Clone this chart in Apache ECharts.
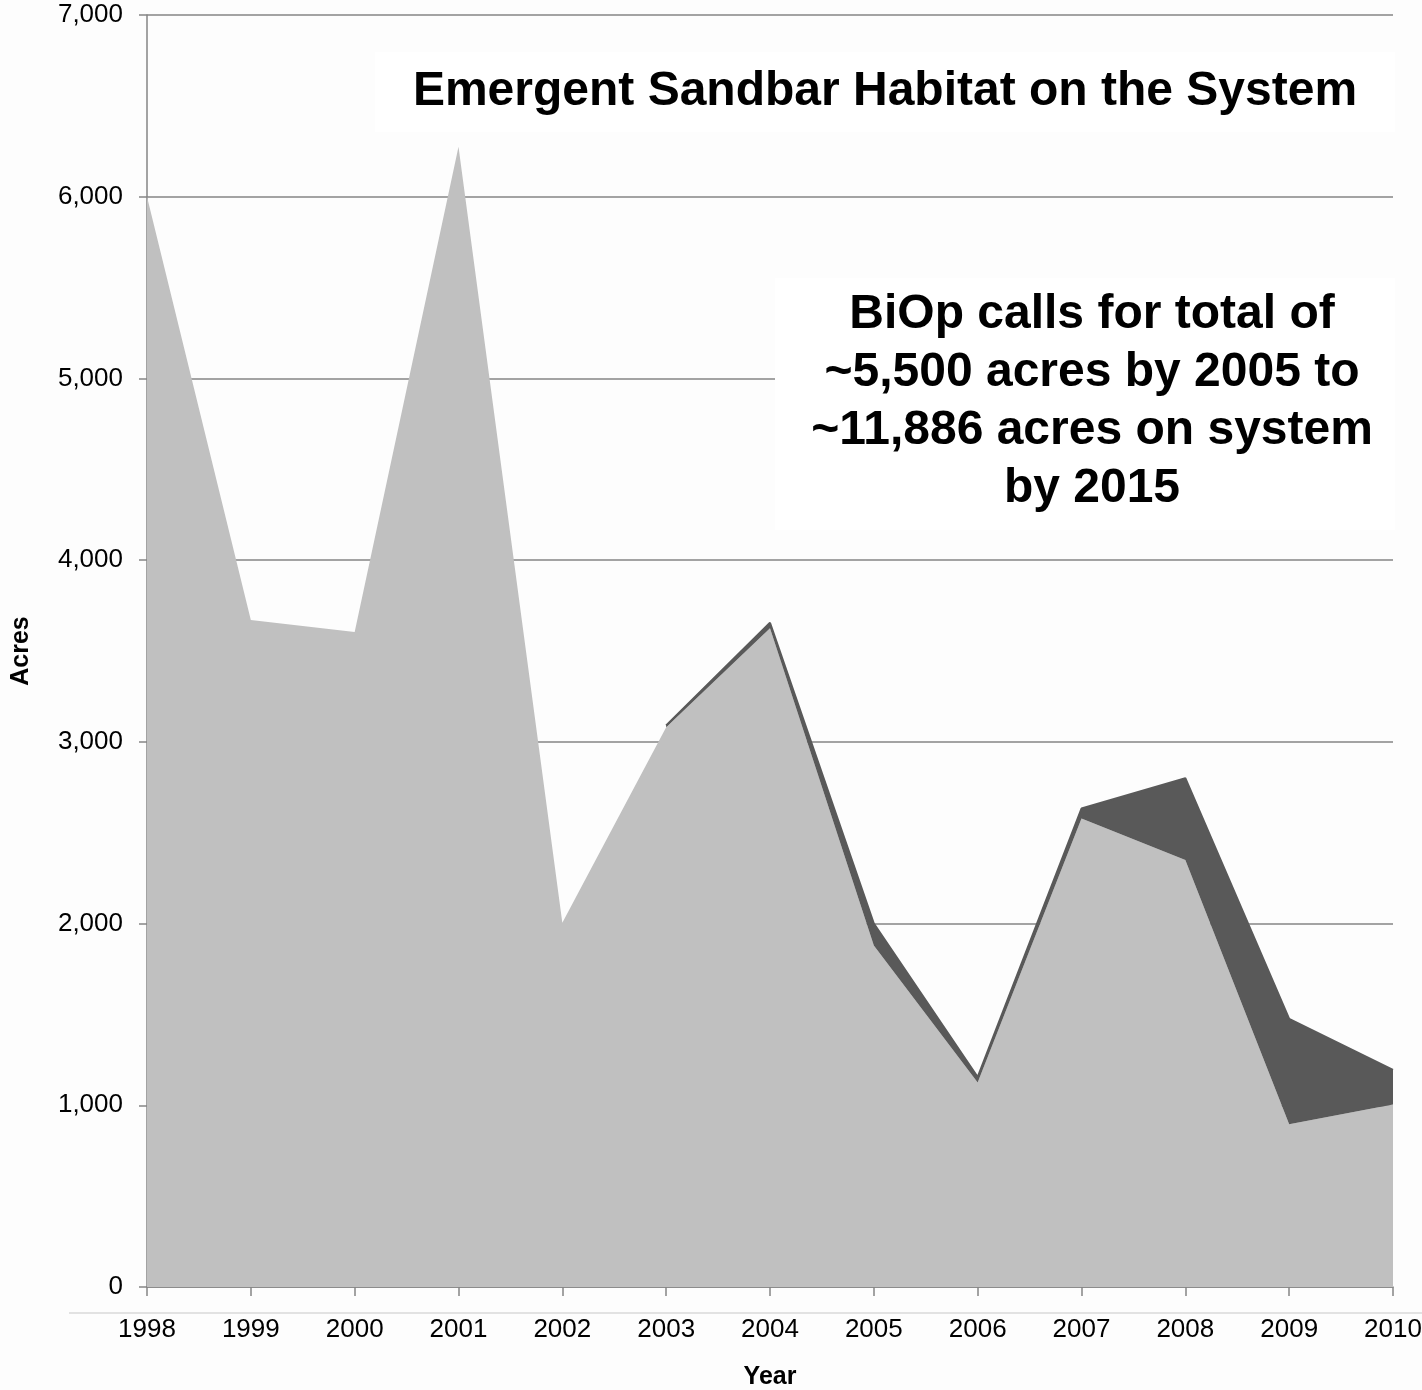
<!DOCTYPE html>
<html><head><meta charset="utf-8">
<script src="https://cdn.jsdelivr.net/npm/echarts@6/dist/echarts.min.js"></script>
<style>html,body{margin:0;padding:0;background:#fdfdfd}#c{width:1422px;height:1390px}</style>
</head><body><div id="c"></div>
<script>
const years = ['1998','1999','2000','2001','2002','2003','2004','2005','2006','2007','2008','2009','2010'];
const natural = [6000,3670,3605,6275,2005,3080,3625,1880,1125,2578,2350,895,1005];
const constructed = [null,null,null,null,null,10,30,120,30,55,450,580,190];
const yTicks = [0,1000,2000,3000,4000,5000,6000,7000];
const titleText = 'Emergent Sandbar Habitat on the System';
const noteLines = ['BiOp calls for total of','~5,500 acres by 2005 to','~11,886 acres on system','by 2015'];

const chart = echarts.init(document.getElementById('c'));
const FONT = '"Liberation Sans", Arial, sans-serif';
const AX = '#858585';
chart.setOption({
  backgroundColor: '#fdfdfd',
  animation: false,
  grid: {left: 147, right: 29, top: 15, bottom: 103, outerBoundsMode: 'none', containLabel: false},
  xAxis: {
    type: 'category', data: years, boundaryGap: false,
    name: 'Year', nameLocation: 'middle', nameGap: 78,
    nameTextStyle: {fontFamily: FONT, fontWeight: 'bold', fontSize: 25, color: '#000'},
    axisLine: {lineStyle: {color: AX, width: 1.5}},
    axisTick: {show: true, length: 9, lineStyle: {color: AX, width: 1.5}},
    axisLabel: {fontFamily: FONT, fontSize: 26, color: '#000', margin: 30},
    splitLine: {show: false}
  },
  yAxis: {
    type: 'value', min: 0, max: 7000, interval: 1000,
    name: 'Acres', nameLocation: 'middle', nameGap: 113,
    nameTextStyle: {fontFamily: FONT, fontWeight: 'bold', fontSize: 25, color: '#000'},
    axisLine: {show: true, lineStyle: {color: AX, width: 1.5}},
    axisTick: {show: true, length: 8, lineStyle: {color: AX, width: 1.5}},
    axisLabel: {fontFamily: FONT, fontSize: 26, color: '#000', margin: 24,
      formatter: v => yTicks.includes(v) ? v.toLocaleString('en-US') : ''},
    splitLine: {show: true, lineStyle: {color: AX, width: 1.5}}
  },
  series: [
    {name: 'Natural', type: 'line', stack: 's', data: natural, symbol: 'none',
     lineStyle: {width: 0, opacity: 0}, areaStyle: {color: '#c0c0c0', opacity: 1}},
    {name: 'Constructed', type: 'line', stack: 's', data: constructed.map(v => v == null ? '-' : v), symbol: 'none',
     lineStyle: {width: 2, color: '#595959'}, areaStyle: {color: '#595959', opacity: 1}}
  ],
  graphic: [
    {type: 'line', shape: {x1: 69, y1: 1313, x2: 1422, y2: 1313}, style: {stroke: '#e2e2e2', lineWidth: 2}, z: 0},
    {type: 'rect', shape: {x: 375, y: 52, width: 1020, height: 80}, style: {fill: '#ffffff'}, z: 50},
    {type: 'text', x: 885, y: 92, z: 51, style: {text: titleText, font: 'bold 48px ' + FONT, fill: '#000', align: 'center', verticalAlign: 'middle'}},
    {type: 'rect', shape: {x: 775, y: 278, width: 620, height: 252}, style: {fill: '#ffffff'}, z: 50},
    {type: 'text', x: 1092, y: 402, z: 51, style: {text: noteLines.join('\n'), font: 'bold 48px ' + FONT, lineHeight: 58, fill: '#000', align: 'center', verticalAlign: 'middle'}}
  ]
});
</script></body></html>
